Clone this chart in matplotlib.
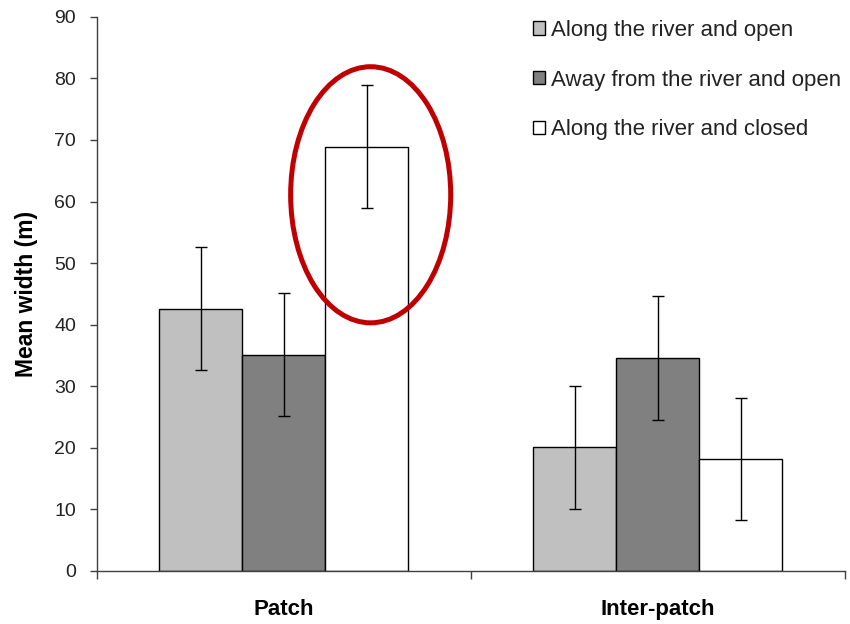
import numpy as np
from matplotlib import pyplot as plt
from matplotlib.patches import Ellipse

plt.rcParams['font.family'] = ['Liberation Sans', 'DejaVu Sans']

# ----------------data--------------------------------
categories = ['Patch', 'Inter-patch']
series_names = ['Along the river and open',
                'Away from the river and open',
                'Along the river and closed']
means = [
    [42.6, 20.1],   # along the river, open
    [35.1, 34.6],   # away from the river, open
    [68.9, 18.2],   # along the river, closed
]
errors = [
    [10.0, 10.0],
    [10.0, 10.0],
    [10.0, 9.9],
]
colors = ['#C0C0C0', '#808080', '#FFFFFF']

# ----------------plot--------------------------------
fig = plt.figure(figsize=(8.5, 6.24), dpi=100)
ax = fig.add_axes([0.114, 0.085, 0.880, 0.888])

x = np.arange(len(categories))
width = 0.222
for i, (name, vals, errs) in enumerate(zip(series_names, means, errors)):
    offs = (i - 1) * width
    ax.bar(x + offs, vals, width, color=colors[i], edgecolor='black',
           linewidth=1.0, label=name, zorder=2)
    ax.errorbar(x + offs, vals, yerr=errs, fmt='none', ecolor='black',
                elinewidth=1.0, capsize=4.5, capthick=1.0, zorder=3)

# red highlight round the closed patch bar
ax.add_patch(Ellipse((x[0] + width + 0.01, 61.1), 0.428, 41.6, fill=False,
                     edgecolor='#C00000', linewidth=3.6, zorder=4))

ax.set_xlim(-0.5, 1.5)
ax.set_ylim(0, 90)
ax.set_yticks(np.arange(0, 91, 10))
ax.set_xticks(x)
ax.set_xticklabels(categories, fontsize=16, fontweight='bold')
ax.set_xticks([-0.5, 0.5, 1.5], minor=True)
ax.tick_params(axis='x', which='major', length=0, pad=20)
ax.tick_params(axis='x', which='minor', length=6, width=1.0, color='#404040')
ax.tick_params(axis='y', length=5, width=1.0, labelsize=14, color='#404040',
               labelcolor='#222222', pad=10)
ax.set_ylabel('Mean width (m)', fontsize=16.5, fontweight='bold', labelpad=12)

for side in ['top', 'right']:
    ax.spines[side].set_visible(False)
for side in ['left', 'bottom']:
    ax.spines[side].set_linewidth(1.0)
    ax.spines[side].set_color('#404040')

handles, labels = ax.get_legend_handles_labels()
leg = fig.legend(handles, labels, loc='upper left',
                 bbox_to_anchor=(0.627, 0.968), bbox_transform=fig.transFigure,
                 frameon=False, fontsize=16, handlelength=0.55,
                 handleheight=0.55, handletextpad=0.25, labelspacing=1.29,
                 borderpad=0, borderaxespad=0)
for t in leg.get_texts():
    t.set_color('#222222')

fig.savefig('out.png', dpi=100)
